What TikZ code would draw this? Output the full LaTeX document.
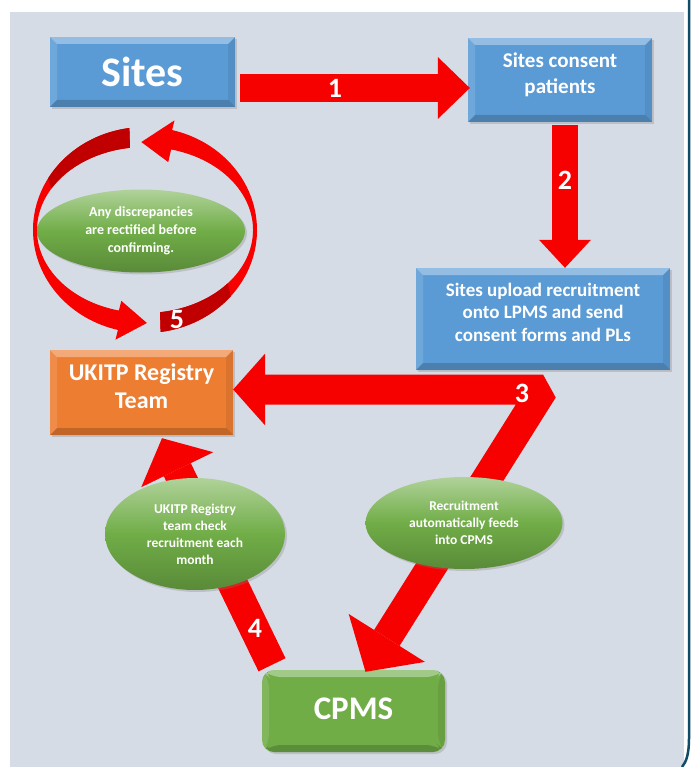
\documentclass[tikz,border=0pt]{standalone}
\usepackage{fontspec}
\setmainfont{Carlito}
\usepackage{tikz}
\usetikzlibrary{arrows.meta, bending, shadows, shapes.geometric, positioning}
\definecolor{cpanel}{RGB}{214,220,229}
\definecolor{cblue}{RGB}{91,155,213}
\definecolor{corange}{RGB}{237,125,49}
\definecolor{cgreen}{RGB}{112,173,71}
\definecolor{cred}{RGB}{246,0,0}
\definecolor{cdarkred}{RGB}{192,0,0}
\definecolor{cteal}{RGB}{16,76,104}
\tikzset{
Bevel/.style={
	path picture={
		\coordinate (bnw) at (path picture bounding box.north west);
		\coordinate (bne) at (path picture bounding box.north east);
		\coordinate (bsw) at (path picture bounding box.south west);
		\coordinate (bse) at (path picture bounding box.south east);
		\fill[white, opacity=.35] (bnw) -- (bne) -- ([shift={(-7pt,-7pt)}]bne) -- ([shift={(7pt,-7pt)}]bnw) -- cycle;
		\fill[white, opacity=.12] (bnw) -- (bsw) -- ([shift={(7pt,7pt)}]bsw) -- ([shift={(7pt,-7pt)}]bnw) -- cycle;
		\fill[black, opacity=.08] (bne) -- (bse) -- ([shift={(-7pt,7pt)}]bse) -- ([shift={(-7pt,-7pt)}]bne) -- cycle;
		\fill[black, opacity=.18] (bsw) -- (bse) -- ([shift={(-7pt,7pt)}]bse) -- ([shift={(7pt,7pt)}]bsw) -- cycle;
	}
},
BlueBox/.style={
	rectangle,
	fill=cblue,
	Bevel,
	drop shadow={opacity=.3, shadow xshift=2pt, shadow yshift=-2pt}
},
OrangeBox/.style={
	BlueBox,
	fill=corange
},
GreenBox/.style={
	BlueBox,
	fill=cgreen,
	rounded corners=12pt
},
BoxText/.style={
	text=white,
	align=center,
	inner sep=0pt,
	font=\bfseries\fontsize{21}{26}\selectfont
},
Note/.style={
	ellipse,
	top color=cgreen!55!white,
	bottom color=cgreen!80!black,
	middle color=cgreen,
	text=white,
	align=center,
	inner sep=0pt,
	font=\bfseries\fontsize{13.5}{17}\selectfont,
	drop shadow={opacity=.3, shadow xshift=2pt, shadow yshift=-2pt}
},
BlockArrow/.style={
	draw=cred,
	line width=28pt,
	-{Triangle[length=32pt, width=62pt, line width=0pt]}
},
Ring/.style={
	fill=cred
},
RingTail/.style={
	fill=cdarkred
},
StepNum/.style={
	text=white,
	inner sep=0pt,
	font=\bfseries\fontsize{28}{30}\selectfont
}
}

\begin{document}
\begin{tikzpicture}[x=1pt, y=-1pt]
	\useasboundingbox (0,0) rectangle (694,767);
	\fill[white] (0,0) rectangle (694,767);
	\fill[cpanel] (10,12) rectangle (684,767);
	\draw[cteal, line width=2.5pt] (689,0) -- (689,738) .. controls (689,755) and (686,762) .. (682,767);

	% boxes
	\node[BlueBox, minimum width=185pt, minimum height=70pt] (sites) at (142.5,72) {};
	\node[BoxText, font=\bfseries\fontsize{42}{50}\selectfont] (sitestext) at (sites.center) {Sites};
	\node[BlueBox, minimum width=184pt, minimum height=84pt] (consent) at (560,80) {};
	\node[BoxText] (consenttext) at ([yshift=5pt]consent.center) {Sites consent\\patients};
	\node[BlueBox, minimum width=254pt, minimum height=102pt] (upload) at (543,319) {};
	\node[BoxText, font=\bfseries\fontsize{19}{22.5}\selectfont] (uploadtext) at ([yshift=7pt]upload.center) {Sites upload recruitment\\onto LPMS and send\\consent forms and PLs};
	\node[OrangeBox, minimum width=183pt, minimum height=85pt] (ukitp) at (141.5,392.5) {};
	\node[BoxText, font=\bfseries\fontsize{24}{28}\selectfont] (ukitptext) at ([yshift=6pt]ukitp.center) {UKITP Registry\\Team};
	\node[GreenBox, minimum width=183pt, minimum height=82pt] (cpms) at (353.5,711) {};
	\node[BoxText, font=\bfseries\fontsize{33}{40}\selectfont] (cpmstext) at ([yshift=2pt]cpms.center) {CPMS};

	% arrows
	\draw[BlockArrow] ([shift={(5pt,-16pt)}]sites.east) -- ([shift={(2pt,-8pt)}]consent.west);
	\draw[BlockArrow, line width=26pt, -{Triangle[length=28pt, width=52pt, line width=0pt]}] ([shift={(5pt,-3pt)}]consent.south) -- ([xshift=22pt]upload.north);
	\coordinate (fork) at (543,389.5);
	\draw[BlockArrow, line width=30pt, line join=bevel, {Triangle[length=32pt, width=72pt, line width=0pt]}-{Triangle[length=40pt, width=90pt, line width=0pt]}] ([yshift=3pt]ukitp.east) -- (fork) -- ([shift={(12pt,-2pt)}]cpms.north);
	\draw[BlockArrow, line width=30pt, -{Triangle[length=35pt, width=80pt, line width=0pt]}] ([shift={(-81.5pt,5pt)}]cpms.north) -- ([shift={(20.5pt,-3pt)}]ukitp.south);

	% loop round the note
	\coordinate (ringc) at (145,230);
	\begin{scope}[shift={(ringc)}]
		\fill[Ring] (262:112 and 103) arc[start angle=262, end angle=104, x radius=112, y radius=103]
			-- (104:122 and 113) -- (89:110 and 93) -- (104:98 and 73) -- (104:108 and 83)
			arc[start angle=104, end angle=262, x radius=108, y radius=83] -- cycle;
		\fill[RingTail] (262:112 and 103) arc[start angle=262, end angle=210, x radius=112, y radius=103]
			-- (210:108 and 83) arc[start angle=210, end angle=262, x radius=108, y radius=83] -- cycle;
		\fill[Ring] (82:112 and 103) arc[start angle=82, end angle=-76, x radius=112, y radius=103]
			-- (-76:122 and 113) -- (-92:105 and 88) -- (-76:96 and 70) -- (-76:108 and 83)
			arc[start angle=-76, end angle=82, x radius=108, y radius=83] -- cycle;
		\fill[RingTail] (82:112 and 103) arc[start angle=82, end angle=40, x radius=112, y radius=103]
			-- (40:108 and 83) arc[start angle=40, end angle=82, x radius=108, y radius=83] -- cycle;
	\end{scope}

	% notes
	\node[Note, minimum width=208pt, minimum height=83pt, font=\bfseries\fontsize{14}{18}\selectfont] (discrep) at (141,231) {Any discrepancies\\are rectified before\\confirming.};
	\node[Note, minimum width=180pt, minimum height=112pt] (check) at (195,534) {UKITP Registry\\team check\\recruitment each\\month};
	\node[Note, minimum width=197pt, minimum height=92pt] (feeds) at (464,523) {Recruitment\\automatically feeds\\into CPMS};

	\node[StepNum] (one) at (335,88) {1};
	\node[StepNum] (two) at (565,180) {2};
	\node[StepNum] (three) at (522,393) {3};
	\node[StepNum] (four) at (255,628) {4};
	\node[StepNum] (five) at (177,320) {5};
\end{tikzpicture}
\end{document}
